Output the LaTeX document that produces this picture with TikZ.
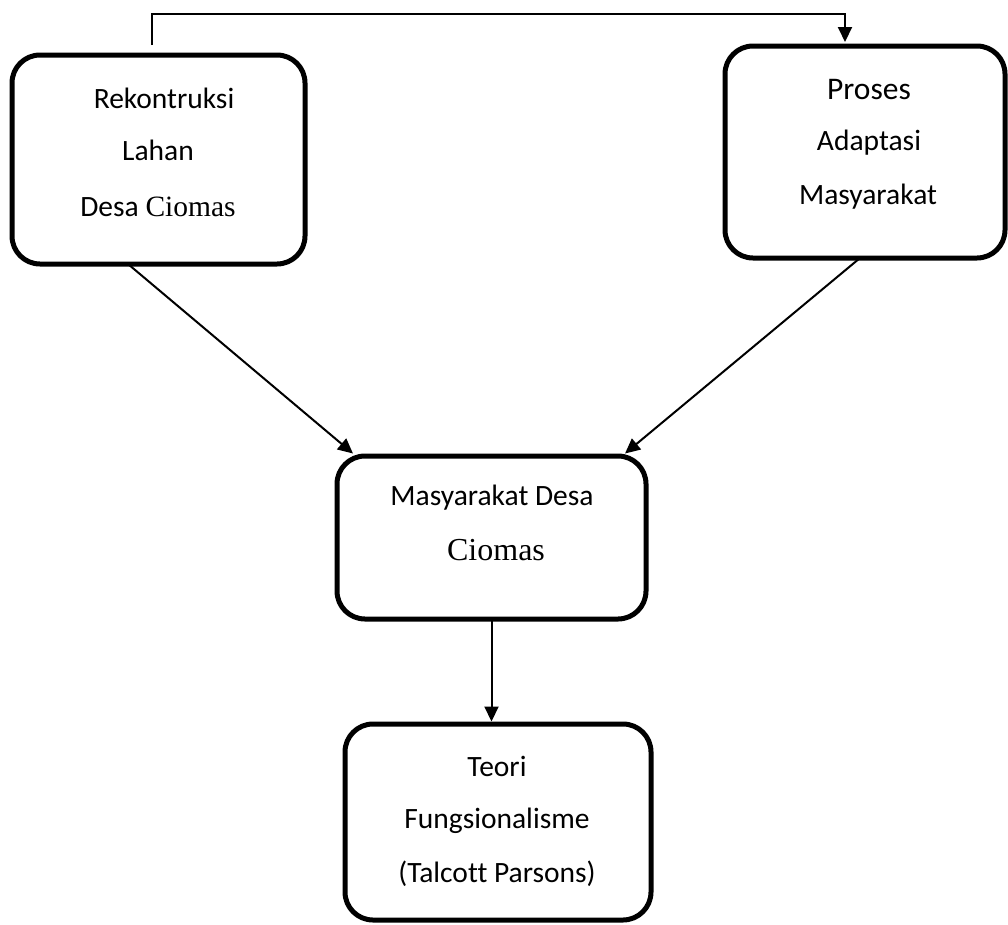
\documentclass[tikz,border=0pt]{standalone}
\usepackage{fontspec}
\setmainfont{Carlito}[Ligatures=NoCommon]
\newfontfamily\tnr{Liberation Serif}
\usetikzlibrary{arrows.meta}
\tikzset{
  boxstyle/.style={draw, line width=5pt, rounded corners=28pt, inner sep=0pt, outer sep=0pt},
  txt/.style={anchor=base, inner sep=0pt},
  arr/.style={line width=2pt, -{Triangle[length=15pt,width=14pt]}},
}
\begin{document}
\begin{tikzpicture}[x=1pt,y=-1pt]
\useasboundingbox (0,0) rectangle (1008,924);
% boxes
\node[boxstyle, minimum width=293pt, minimum height=209pt] (a) at (158.5,159.5) {};
\node[boxstyle, minimum width=280pt, minimum height=212pt] (b) at (865,152) {};
\node[boxstyle, minimum width=309pt, minimum height=163pt] (c) at (491.5,537.5) {};
\node[boxstyle, minimum width=306pt, minimum height=196pt] (d) at (498,822) {};
% texts box a
\node[txt, font=\fontsize{29.5}{34}\selectfont] (a1) at (164,108) {Rekontruksi};
\node[txt, font=\fontsize{29.5}{34}\selectfont] (a2) at (158,160) {Lahan};
\node[txt, font=\fontsize{29.5}{34}\selectfont] (a3) at (158,216) {Desa {\tnr Ciomas}};
% texts box b
\node[txt, font=\fontsize{31.5}{36}\selectfont] (b1) at (869,99) {Proses};
\node[txt, font=\fontsize{29.5}{34}\selectfont] (b2) at (869,150) {Adaptasi};
\node[txt, font=\fontsize{29.5}{34}\selectfont] (b3) at (868,204) {Masyarakat};
% texts box c
\node[txt, font=\fontsize{29.5}{34}\selectfont] (c1) at (492,505) {Masyarakat Desa};
\node[txt, font=\fontsize{32}{38}\selectfont\tnr] (c2) at (496,560) {Ciomas};
% texts box d
\node[txt, font=\fontsize{29.5}{34}\selectfont] (d1) at (497,776) {Teori};
\node[txt, font=\fontsize{29.5}{34}\selectfont] (d2) at (497,828) {Fungsionalisme};
\node[txt, font=\fontsize{29.5}{34}\selectfont] (d3) at (497,882) {(Talcott Parsons)};
% connectors
\coordinate (s0) at ([xshift=-6.5pt,yshift=10pt]a.north);
\coordinate (tb) at (845,14);
\coordinate (bt) at ([xshift=-20pt,yshift=4pt]b.north);
\draw[arr] (s0) |- (tb) -- (bt);
\draw[arr] ([xshift=-30.5pt]a.south) -- ([xshift=16pt,yshift=2.5pt]c.north west);
\draw[arr] ([xshift=-5pt]b.south) -- ([xshift=-21pt,yshift=2.5pt]c.north east);
\draw[arr] (c.south) -- ([yshift=2.5pt]c.south |- d.north);
\end{tikzpicture}
\end{document}
